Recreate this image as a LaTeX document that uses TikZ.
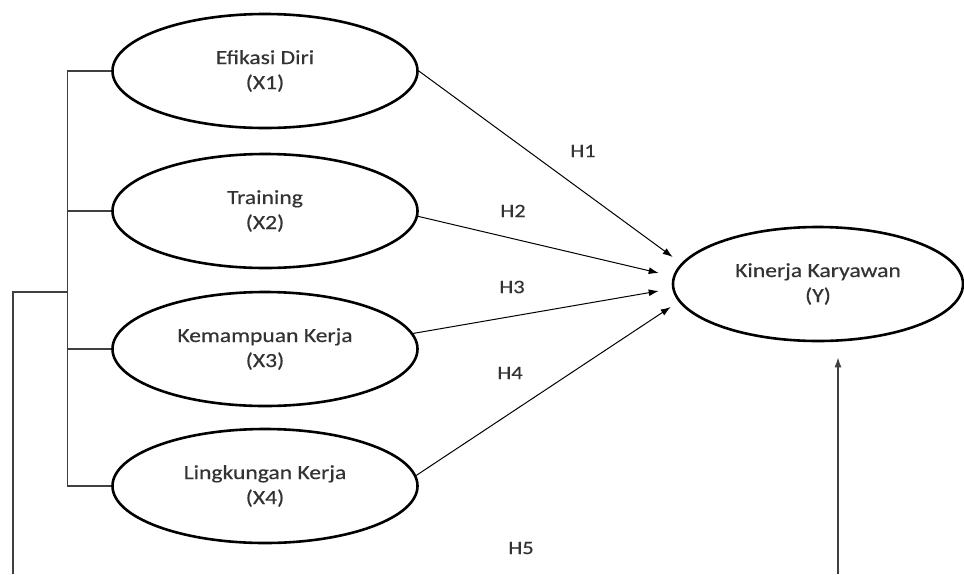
\documentclass[tikz,border=0pt]{standalone}
\usepackage{fontspec}
\setmainfont{Carlito}[FakeStretch=1.18,FakeBold=0.4]
\usetikzlibrary{arrows.meta,calc,shapes.geometric}
\tikzset{>={Latex[length=10pt,width=7pt]}}
\colorlet{mytext}{black!80}

\begin{document}
\begin{tikzpicture}[x=1pt,y=-1pt,
    latent/.style={ellipse,draw,line width=2.6pt,minimum width=305pt,minimum height=114pt,
        align=center,text=mytext,font=\fontsize{20}{25}\selectfont},
    hyp/.style={text=mytext,font=\fontsize{19}{23}\selectfont},
    path/.style={->,line width=1pt},
    bracket/.style={line width=1.4pt,black!75}]
            \useasboundingbox (0,0) rectangle (964,574);
            % left side: the four X constructs
            \foreach \name/\txt/\yy in {x1/{Efikasi Diri\\(X1)}/71,x2/{Training\\(X2)}/211,
                x3/{Kemampuan Kerja\\(X3)}/349,x4/{Lingkungan Kerja\\(X4)}/486}{
                \node[latent] (\name) at (265,\yy) {\txt};
            }
            \node[latent,minimum width=290pt] (y) at (818,284) {Kinerja Karyawan\\(Y)};
            % arrow ends near Y
            \coordinate (t1) at ([shift={(1,-27)}]y.west);
            \coordinate (t2) at ([shift={(-13,-11)}]y.west);
            \coordinate (t3) at ([shift={(-13,7)}]y.west);
            \coordinate (t4) at ([shift={(-1,23)}]y.west);
            \draw[path] (x1.east) -- (t1);
            \draw[path] (x2.-2) -- (t2);
            \draw[path] (x3.6) -- (t3);
            \draw[path] (x4.4) -- (t4);
            % hypothesis labels
            \node[hyp] (h1) at (583,151) {H1};
            \node[hyp] (h2) at (513,211) {H2};
            \node[hyp] (h3) at (512,287) {H3};
            \node[hyp] (h4) at (510,373) {H4};
            \node[hyp] (h5) at (521,548) {H5};
            % bracket joining the X constructs
            \coordinate (b) at ([xshift=-44pt]x1.west);
            \draw[bracket] (x1.west) -- (b) |- (x4.west);
            \foreach \name in {x2,x3}
                \draw[bracket] (\name.west) -- (\name.west -| b);
            \coordinate (j) at (b |- 0,292);
            \coordinate (c) at (13,574);
            \draw[bracket] (j) -| (c);
            \coordinate (u) at (838,574);
            \draw[bracket,->] (u) -- ([xshift=20pt,yshift=-15pt]y.south);
\end{tikzpicture}
\end{document}
